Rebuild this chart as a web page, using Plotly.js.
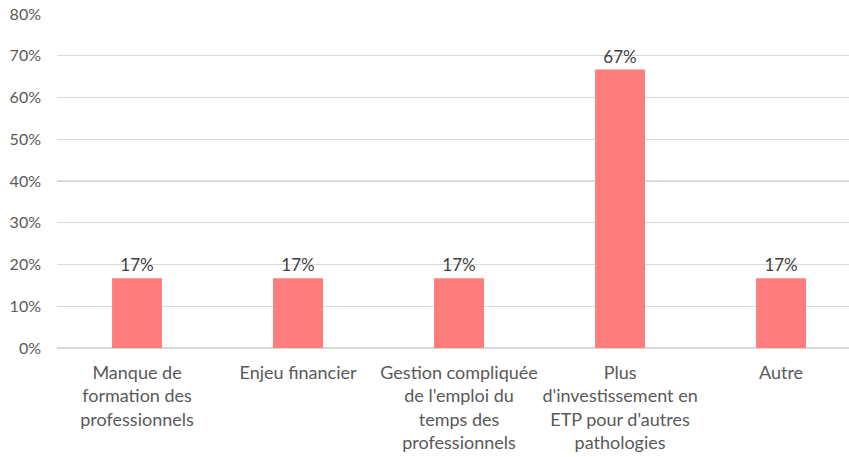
<!DOCTYPE html>
<html>
<head>
<meta charset="utf-8">
<script src="https://cdn.plot.ly/plotly-3.0.1.min.js"></script>
<style>html,body{margin:0;padding:0;background:#fff}#chart{width:849px;height:457px}</style>
</head>
<body>
<div id="chart"></div>
<script>
const categories = [
  "Manque de<br>formation des<br>professionnels",
  "Enjeu financier",
  "Gestion compliquée<br>de l'emploi du<br>temps des<br>professionnels",
  "Plus<br>d'investissement en<br>ETP pour d'autres<br>pathologies",
  "Autre"
];
const values = [0.167, 0.167, 0.167, 0.667, 0.167];
const valueLabels = ["17%", "17%", "17%", "67%", "17%"];
const yTickValues = [0, 0.1, 0.2, 0.3, 0.4, 0.5, 0.6, 0.7, 0.8];
const yTickLabels = ["0%", "10%", "20%", "30%", "40%", "50%", "60%", "70%", "80%"];

const trace = {
  type: "bar",
  x: categories,
  y: values,
  text: valueLabels,
  textposition: "outside",
  cliponaxis: false,
  textfont: {family: "Lato, 'Open Sans', sans-serif", size: 17, color: "#404040"},
  marker: {color: "#FF7C7C"},
  hoverinfo: "none"
};

const layout = {
  width: 849,
  height: 457,
  margin: {l: 57, r: 0, t: 14, b: 109},
  paper_bgcolor: "#ffffff",
  plot_bgcolor: "#ffffff",
  bargap: 0.69,
  showlegend: false,
  font: {family: "Lato, 'Open Sans', sans-serif", color: "#595959"},
  xaxis: {
    type: "category",
    range: [-0.497, 4.422],
    showgrid: false,
    showline: false,
    zeroline: false,
    ticks: "",
    tickfont: {size: 18, color: "#595959"},
    ticklabelstandoff: 12,
    automargin: false
  },
  yaxis: {
    range: [0, 0.8],
    tickvals: yTickValues,
    ticktext: yTickLabels,
    showgrid: true,
    gridcolor: "#d9d9d9",
    gridwidth: 1.3,
    zeroline: true,
    zerolinecolor: "#d9d9d9",
    zerolinewidth: 1.3,
    showline: false,
    ticks: "",
    tickfont: {size: 16, color: "#595959"},
    ticklabelstandoff: 15,
    automargin: false
  }
};

Plotly.newPlot("chart", [trace], layout, {displayModeBar: false, staticPlot: true});
</script>
</body>
</html>
